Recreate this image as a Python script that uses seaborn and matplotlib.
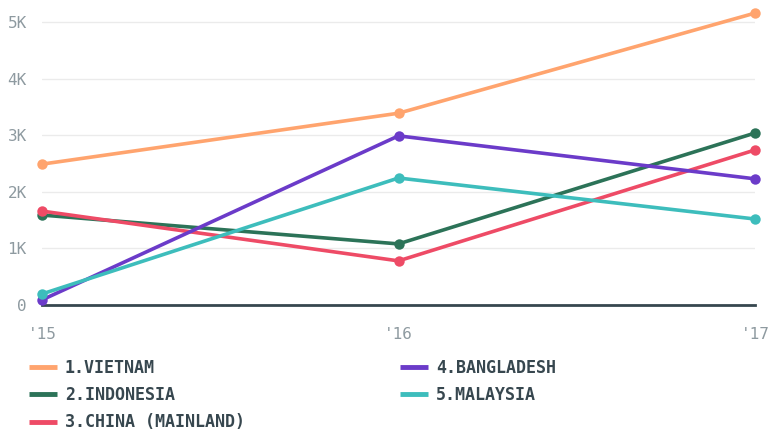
import matplotlib
matplotlib.use("Agg")
import matplotlib.pyplot as plt
import seaborn as sns
import pandas as pd

years = ["'15", "'16", "'17"]
countries = ["1.VIETNAM", "2.INDONESIA", "3.CHINA (MAINLAND)", "4.BANGLADESH", "5.MALAYSIA"]
vietnam = [2490, 3390, 5160]
indonesia = [1590, 1080, 3040]
china = [1660, 780, 2740]
bangladesh = [90, 2990, 2230]
malaysia = [195, 2245, 1520]
colors = ["#FFA46E", "#2C7358", "#EE4B66", "#6B3BC9", "#3DBDBC"]
yticks = [0, 1000, 2000, 3000, 4000, 5000]
yticklabels = ["0", "1K", "2K", "3K", "4K", "5K"]

series = [vietnam, indonesia, china, bangladesh, malaysia]
rows = []
for c, vals in zip(countries, series):
    for i, v in enumerate(vals):
        rows.append({"country": c, "x": i, "value": v})
df = pd.DataFrame(rows)

sns.set_style("white")
plt.rcParams["font.family"] = ["DejaVu Sans Mono"]

fig = plt.figure(figsize=(7.7, 4.3), dpi=100)
ax = fig.add_axes([42/770, 125/430, 713/770, 297/430])

sns.lineplot(data=df, x="x", y="value", hue="country", hue_order=countries,
             palette=colors, marker="o", markersize=7.5, markeredgewidth=0,
             linewidth=2.6, ax=ax, legend=True, clip_on=False)

ax.set_xlim(0, 2)
ax.set_ylim(0, 5250)
ax.set_xticks(range(len(years)))
ax.set_xticklabels(years)
ax.set_yticks(yticks)
ax.set_yticklabels(yticklabels)
ax.set_xlabel("")
ax.set_ylabel("")
for s in ["top", "right", "left"]:
    ax.spines[s].set_visible(False)
ax.spines["bottom"].set_color("#37474F")
ax.spines["bottom"].set_linewidth(2)
ax.spines["bottom"].set_zorder(1)
ax.grid(axis="y", color="#EBEBEB", linewidth=1)
ax.set_axisbelow(True)
ax.tick_params(axis="both", length=0, labelcolor="#8E9AA0", labelsize=11.5)
ax.tick_params(axis="x", pad=16)
ax.tick_params(axis="y", pad=11)

handles, labels = ax.get_legend_handles_labels()
ax.legend_.remove()
for h in handles:
    h.set_marker("")
    h.set_linewidth(3.5)
    h.set_solid_capstyle("butt")
leg = fig.legend(handles, labels, loc="upper left", bbox_to_anchor=(14/770, 1 - 344/430),
                 ncol=2, frameon=False, handlelength=1.68, handletextpad=0.48,
                 columnspacing=9.3, labelspacing=0.55,
                 prop={"family": "DejaVu Sans Mono", "weight": "bold", "size": 12})
for t in leg.get_texts():
    t.set_color("#37474F")

fig.savefig("out.png", dpi=100)
